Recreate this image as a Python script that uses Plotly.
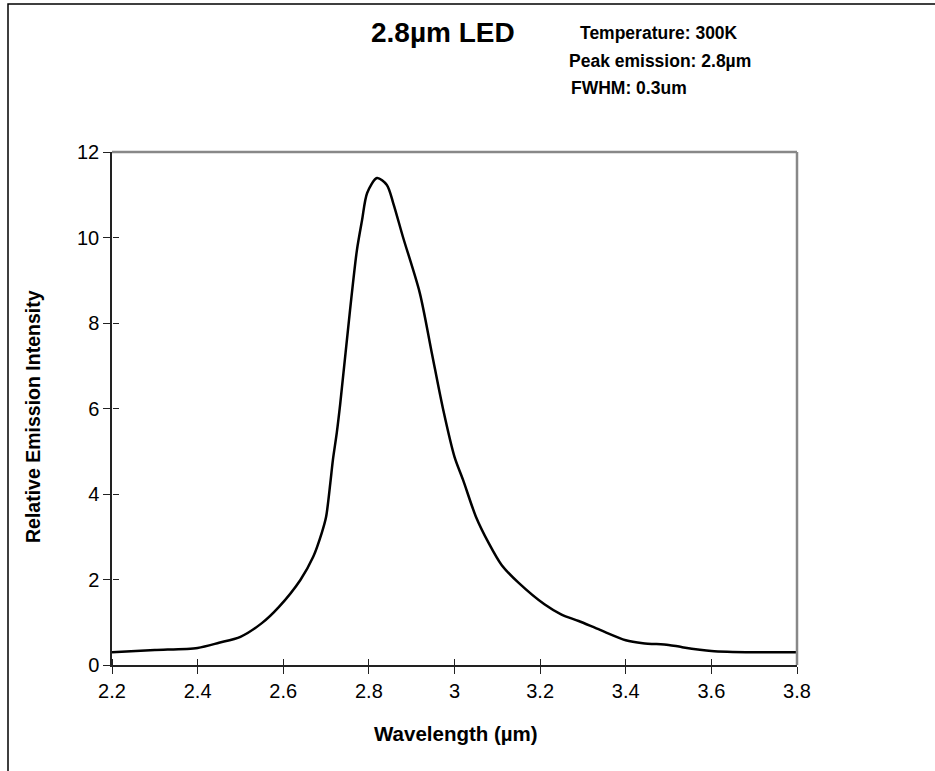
import plotly.graph_objects as go

wavelength = [2.20, 2.30, 2.40, 2.45, 2.50, 2.55, 2.59, 2.64, 2.67, 2.69, 2.70, 2.71,
              2.716, 2.725, 2.733, 2.756, 2.772, 2.784, 2.796, 2.819, 2.842, 2.857,
              2.88, 2.919, 2.947, 2.973, 3.00, 3.02, 3.05, 3.08, 3.11, 3.15, 3.21,
              3.25, 3.29, 3.34, 3.40, 3.44, 3.50, 3.53, 3.60, 3.70, 3.80]
intensity = [0.30, 0.35, 0.40, 0.52, 0.66, 0.98, 1.36, 1.99, 2.53, 3.09, 3.46, 4.26,
             4.80, 5.43, 6.10, 8.30, 9.70, 10.40, 11.04, 11.39, 11.23, 10.80,
             10.00, 8.70, 7.30, 6.00, 4.87, 4.33, 3.47, 2.85, 2.34, 1.92, 1.42,
             1.18, 1.03, 0.82, 0.58, 0.51, 0.47, 0.42, 0.33, 0.30, 0.30]

x_ticks = [2.2, 2.4, 2.6, 2.8, 3.0, 3.2, 3.4, 3.6, 3.8]
x_tick_labels = ["2.2", "2.4", "2.6", "2.8", "3", "3.2", "3.4", "3.6", "3.8"]
y_ticks = [0, 2, 4, 6, 8, 10, 12]

title_text = "2.8µm LED"
info_lines = ["Temperature: 300K", "Peak emission: 2.8µm", "FWHM: 0.3um"]

FONT = "Liberation Sans, Arial, sans-serif"

fig = go.Figure()
fig.add_trace(go.Scatter(x=wavelength, y=intensity, mode="lines",
                         line=dict(color="black", width=2.5, shape="spline", smoothing=0.8),
                         showlegend=False, hoverinfo="skip"))
# invisible trace on overlay axes so their ticks (pointing into the plot) are drawn
fig.add_trace(go.Scatter(x=[x_ticks[0]], y=[y_ticks[0]], xaxis="x2", yaxis="y2",
                         mode="markers", marker=dict(opacity=0), showlegend=False,
                         hoverinfo="skip"))

axis_common = dict(showgrid=False, zeroline=False)
fig.update_layout(
    width=935, height=771,
    margin=dict(l=112, r=138, t=152, b=106),
    paper_bgcolor="white", plot_bgcolor="white",
    font=dict(family=FONT, color="black", size=20),
    xaxis=dict(range=[2.2, 3.8], tickvals=x_ticks, ticktext=x_tick_labels,
               ticks="outside", ticklen=7, tickwidth=1.2, tickcolor="#222",
               showline=True, linecolor="#222", linewidth=1.5,
               tickfont=dict(size=20, family=FONT, color="black"), **axis_common),
    yaxis=dict(range=[0, 12], tickvals=y_ticks,
               ticks="outside", ticklen=7, tickwidth=1.2, tickcolor="#222",
               showline=True, linecolor="#222", linewidth=1.5,
               tickfont=dict(size=20, family=FONT, color="black"), **axis_common),
    xaxis2=dict(range=[2.2, 3.8], tickvals=x_ticks, overlaying="x", side="top",
                anchor="free", position=0,
                ticks="outside", ticklen=6, tickwidth=1.2, tickcolor="#222",
                showticklabels=False, showline=False, **axis_common),
    yaxis2=dict(range=[0, 12], tickvals=y_ticks, overlaying="y", side="right",
                anchor="free", position=0,
                ticks="outside", ticklen=6, tickwidth=1.2, tickcolor="#222",
                showticklabels=False, showline=False, **axis_common),
)

def px2paper_x(px):
    return (px - 112) / 685.0

def px2paper_y(py):
    return (665 - py) / 513.0

shapes = [
    dict(type="line", xref="paper", yref="paper", x0=0, x1=1, y0=1, y1=1,
         line=dict(color="#888888", width=2.5)),
    dict(type="line", xref="paper", yref="paper", x0=1, x1=1, y0=0, y1=1,
         line=dict(color="#888888", width=2.5)),
    dict(type="rect", xref="paper", yref="paper",
         x0=px2paper_x(8), x1=px2paper_x(960), y0=px2paper_y(800), y1=px2paper_y(4),
         line=dict(color="black", width=1.5), fillcolor="rgba(0,0,0,0)", layer="below"),
]
fig.update_layout(shapes=shapes)

annotations = [
    dict(text="<b>" + title_text + "</b>", x=px2paper_x(443), y=px2paper_y(32),
         xanchor="center", yanchor="middle", font=dict(size=28, family=FONT)),
    dict(text="<b>" + info_lines[0] + "</b>", x=px2paper_x(578), y=px2paper_y(33),
         xanchor="left", yanchor="middle", font=dict(size=17.5, family=FONT)),
    dict(text="<b>" + info_lines[1] + "</b>", x=px2paper_x(567), y=px2paper_y(61),
         xanchor="left", yanchor="middle", font=dict(size=17.5, family=FONT)),
    dict(text="<b>" + info_lines[2] + "</b>", x=px2paper_x(569), y=px2paper_y(88),
         xanchor="left", yanchor="middle", font=dict(size=17.5, family=FONT)),
    dict(text="<b>Wavelength (µm)</b>", x=px2paper_x(456), y=px2paper_y(733),
         xanchor="center", yanchor="middle", font=dict(size=20.5, family=FONT)),
    dict(text="<b>Relative Emission Intensity</b>", x=px2paper_x(33), y=px2paper_y(417),
         xanchor="center", yanchor="middle", textangle=-90, font=dict(size=19.5, family=FONT)),
]
for a in annotations:
    a.update(xref="paper", yref="paper", showarrow=False)
fig.update_layout(annotations=annotations)

fig.write_html("out.html")
